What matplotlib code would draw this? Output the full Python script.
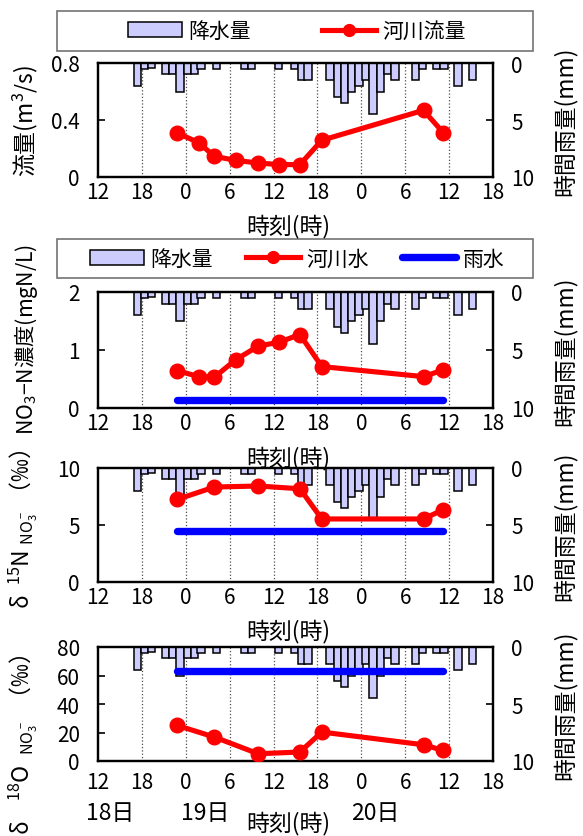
import numpy as np
import matplotlib
matplotlib.use('Agg')
import matplotlib.pyplot as plt
from matplotlib.patches import Rectangle, Patch
from matplotlib.lines import Line2D

plt.rcParams['font.family'] = ['Noto Sans CJK JP', 'DejaVu Sans']
plt.rcParams['mathtext.fontset'] = 'custom'
plt.rcParams['mathtext.rm'] = 'Noto Sans CJK JP'
plt.rcParams['mathtext.it'] = 'Noto Sans CJK JP'
plt.rcParams['mathtext.bf'] = 'Noto Sans CJK JP'

# time axis: hours counted from 00:00 on the 18th
rain_time = [17.4, 18.4, 19.3, 21.2, 22.2, 23.2, 24.2, 25.2, 26.1, 28.2,
             32.0, 33.0, 36.7, 38.9, 39.8, 40.7, 43.7, 44.7, 45.7, 46.7,
             47.7, 48.6, 49.6, 50.6, 51.6, 52.6, 55.4, 56.4, 58.3, 59.3,
             61.2, 63.2]
rain_mm = [2.0, 0.5, 0.4, 1.0, 1.0, 2.5, 1.0, 1.0, 0.5, 0.5,
           0.5, 0.5, 0.5, 0.5, 1.5, 1.5, 1.5, 3.0, 3.5, 2.5,
           2.0, 1.5, 4.5, 2.5, 1.0, 1.5, 1.5, 0.5, 0.5, 0.5,
           2.0, 1.5]

sample_time = [22.8, 25.8, 27.9, 30.8, 33.9, 36.8, 39.6, 42.6, 56.5, 59.2]
flow = [0.31, 0.24, 0.145, 0.117, 0.098, 0.087, 0.087, 0.258, 0.468, 0.311]
no3_river = [0.645, 0.54, 0.53, 0.83, 1.067, 1.136, 1.267, 0.714, 0.541, 0.657]

iso_time = [22.8, 27.9, 33.9, 39.6, 42.6, 56.5, 59.2]
d15n_river = [7.24, 8.33, 8.42, 8.18, 5.53, 5.53, 6.35]
d18o_river = [25.0, 16.8, 5.1, 6.3, 20.3, 11.4, 7.4]

no3_rain = 0.14
d15n_rain = 4.5
d18o_rain = 63.5

xticks = np.arange(12, 67, 6)
xticklabels = [str(t % 24) for t in xticks]
day_labels = ['18日', '19日', '20日']
day_label_x = [13.6, 26.6, 49.9]

BAR_COLOR = '#ccccff'
TICK_FS = 15
LABEL_FS = 16.5
LEGEND_FS = 15

fig = plt.figure(figsize=(5.83, 8.37), dpi=100)

L, W = 98 / 583, 395 / 583


def rect(top, bottom):
    return [L, 1 - bottom / 837, W, (bottom - top) / 837]


def make_panel(r, ylim, yticks, yticklabels, ylabel, xpad=3,
               ylabel_fs=LABEL_FS, ylabel_y=0.5):
    ax = fig.add_axes(r)
    ax2 = ax.twinx()
    for t in xticks[1:-1]:
        ax2.axvline(t, color='0.3', linestyle=':', linewidth=0.9, zorder=0)
    ax2.bar(rain_time, rain_mm, width=1.0, color=BAR_COLOR,
            edgecolor='black', linewidth=1.1, zorder=2)
    ax2.set_ylim(10, 0)
    ax2.set_yticks([0, 5, 10])
    ax2.set_ylabel('時間雨量(mm)', fontsize=LABEL_FS)
    ax2.yaxis.set_label_coords(1.152, 0.5)
    ax.set_zorder(ax2.get_zorder() + 1)
    ax.patch.set_visible(False)

    ax.set_xlim(12, 66)
    ax.set_xticks(xticks)
    ax.set_xticklabels(xticklabels)
    ax.set_ylim(*ylim)
    ax.set_yticks(yticks)
    ax.set_yticklabels(yticklabels)
    ax.set_ylabel(ylabel, fontsize=ylabel_fs)
    ax.yaxis.set_label_coords(-0.148, ylabel_y)

    ax.tick_params(axis='x', length=0, pad=xpad, labelsize=TICK_FS)
    ax.tick_params(axis='y', direction='in', length=5, width=1.2,
                   pad=13, labelsize=TICK_FS)
    ax2.tick_params(axis='y', direction='in', length=5, width=1.2,
                    pad=13, labelsize=TICK_FS)
    for a in (ax, ax2):
        for s in a.spines.values():
            s.set_linewidth(1.6)
    return ax, ax2


def river_line(ax, x, y):
    ax.plot(x, y, color='red', lw=3.7, marker='o', markersize=10.5,
            solid_capstyle='round', zorder=5)


def rain_line(ax, x0, x1, y):
    ax.plot([x0, x1], [y, y], color='blue', lw=5.3,
            solid_capstyle='round', zorder=4)


# panel 1: flow
ax1, _ = make_panel(rect(64, 178), (0, 0.8), [0, 0.4, 0.8], ['0', '0.4', '0.8'],
                    '流量(m$^3$/s)')
river_line(ax1, sample_time, flow)

# panel 2: nitrate
ax2_, _ = make_panel(rect(293, 409), (0, 2), [0, 1, 2], ['0', '1', '2'],
                     'NO$_3$−N濃度(mgN/L)', ylabel_fs=15.3, ylabel_y=0.6)
river_line(ax2_, sample_time, no3_river)
rain_line(ax2_, sample_time[0], sample_time[-1], no3_rain)

# panel 3: d15N
ax3, _ = make_panel(rect(469, 583), (0, 10), [0, 5, 10], ['0', '5', '10'],
                    'δ  $^{15}$N $_{\\mathregular{NO_3^-}}$ （‰）',
                    ylabel_y=0.47)
river_line(ax3, iso_time, d15n_river)
rain_line(ax3, iso_time[0], iso_time[-1], d15n_rain)

# panel 4: d18O
ax4, _ = make_panel(rect(648, 762), (0, 80), [0, 20, 40, 60, 80],
                    ['0', '20', '40', '60', '80'],
                    'δ    $^{18}$O  $_{\\mathregular{NO_3^-}}$  （‰）',
                    xpad=7, ylabel_y=0.15)
river_line(ax4, iso_time, d18o_river)
rain_line(ax4, iso_time[0], iso_time[-1], d18o_rain)

for ax in (ax1, ax2_, ax3):
    ax.set_xlabel('時刻(時)', fontsize=LABEL_FS)
    ax.xaxis.set_label_coords(0.481, -0.32)

for lab, x in zip(day_labels, day_label_x):
    ax4.text(x, -0.45, lab, transform=ax4.get_xaxis_transform(),
             ha='center', va='center', fontsize=LABEL_FS, clip_on=False)
fig.text(288 / 583, 1.5 / 837, '時刻(時)', ha='center', va='bottom',
         fontsize=LABEL_FS)

# legends
h_bar = Patch(facecolor=BAR_COLOR, edgecolor='black', linewidth=1.1)
h_river = Line2D([], [], color='red', lw=3.7, marker='o', markersize=8.5)
h_rain = Line2D([], [], color='blue', lw=5.3, solid_capstyle='round')


def legend_box(top, bottom, handles, labels, colsp):
    y0 = 1 - bottom / 837
    h = (bottom - top) / 837
    fig.add_artist(Rectangle((56.5 / 583, y0), 476 / 583, h,
                             transform=fig.transFigure, fill=False,
                             edgecolor='0.45', lw=1.2))
    fig.legend(handles, labels, loc='center',
               bbox_to_anchor=(297 / 583, y0 + h / 2), ncol=len(handles),
               frameon=False, handlelength=2.6, handletextpad=0.3,
               columnspacing=colsp, fontsize=LEGEND_FS, numpoints=1,
               borderaxespad=0, borderpad=0)


legend_box(12, 52, [h_bar, h_river], ['降水量', '河川流量'], 3.4)
legend_box(240, 279, [h_bar, h_river, h_rain], ['降水量', '河川水', '雨水'], 1.6)

fig.savefig('out.png', dpi=100)
